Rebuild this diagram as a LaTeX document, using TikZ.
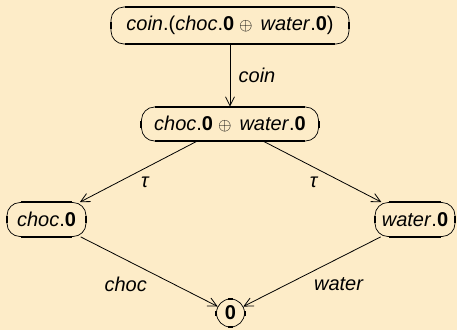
\documentclass[tikz,border=0pt]{standalone}
\usepackage{fontspec}
\setmainfont{Liberation Sans}
\usetikzlibrary{arrows.meta}
\definecolor{paper}{HTML}{FDECC8}
% process terms
\newcommand\nil{\textup{\bfseries 0}}
\newcommand\pre[1]{\textit{#1}\/\textup{.}}
\newcommand\choice{\hspace{5pt}{\fontsize{19}{19}\selectfont$\oplus$}\hspace{8pt}}

\begin{document}
\begin{tikzpicture}[x=1pt,y=-1pt,
  lbl/.style={font=\fontsize{20}{24}\selectfont\itshape, inner sep=0pt},
  proc/.style={draw, line width=0.7pt, rounded corners=13pt, minimum height=34pt,
    inner sep=0pt, font=\fontsize{20}{24}\selectfont},
  halt/.style={draw, circle, line width=0.7pt, minimum size=28pt, inner sep=0pt,
    font=\fontsize{20}{24}\selectfont},
  trans/.style={line width=0.8pt, -{Straight Barb[length=9pt,width=9pt,line width=0.8pt]}},
  bar/.style={line width=2pt},
]
\fill[paper] (0,0) rectangle (457,330);
\useasboundingbox (0,0) rectangle (457,330);

% states
\node[proc, minimum width=238pt, minimum height=37pt] (p0) at (230,25.5)
  {\pre{coin}(\pre{choc}\nil\choice\pre{water}\nil)};
\node[proc, minimum width=177pt] (p1) at (230,124)
  {\pre{choc}\nil\choice\pre{water}\nil};
\node[proc, minimum width=79pt] (p2) at (46.5,219.5) {\pre{choc}\nil};
\node[proc, minimum width=80pt] (p3) at (415,219.5) {\pre{water}\nil};
\node[halt] (p4) at (230.5,313) {\nil};

% heavy edges on the state boxes
\foreach \n in {p0,p1,p2,p3}{
  \draw[bar] ([xshift=14pt]\n.north west) -- ([xshift=-14pt]\n.north east);
  \draw[bar] ([xshift=14pt]\n.south west) -- ([xshift=-14pt]\n.south east);
  \draw[bar] ([yshift=-3.5pt]\n.west) -- ([yshift=3.5pt]\n.west);
  \draw[bar] ([yshift=-3.5pt]\n.east) -- ([yshift=3.5pt]\n.east);
}
\foreach \a in {north,south}
  \draw[bar] ([xshift=-2.5pt]p4.\a) -- ([xshift=2.5pt]p4.\a);
\foreach \a in {east,west}
  \draw[bar] ([yshift=-2.5pt]p4.\a) -- ([yshift=2.5pt]p4.\a);

% transitions
\draw[trans] (p0) -- node[lbl, xshift=27pt] {coin} (p1);
\draw[trans] (p1) -- node[lbl, xshift=6.5pt, yshift=-10.5pt] {τ} (p2);
\draw[trans] (p1) -- node[lbl, xshift=-9pt, yshift=-10.5pt] {τ} (p3);
\draw[trans] (p2) -- node[lbl, xshift=-23.5pt, yshift=-12.5pt] {choc} (p4);
\draw[trans] (p3) -- node[lbl, xshift=26.5pt, yshift=-12.5pt] {water} (p4);
\end{tikzpicture}
\end{document}
